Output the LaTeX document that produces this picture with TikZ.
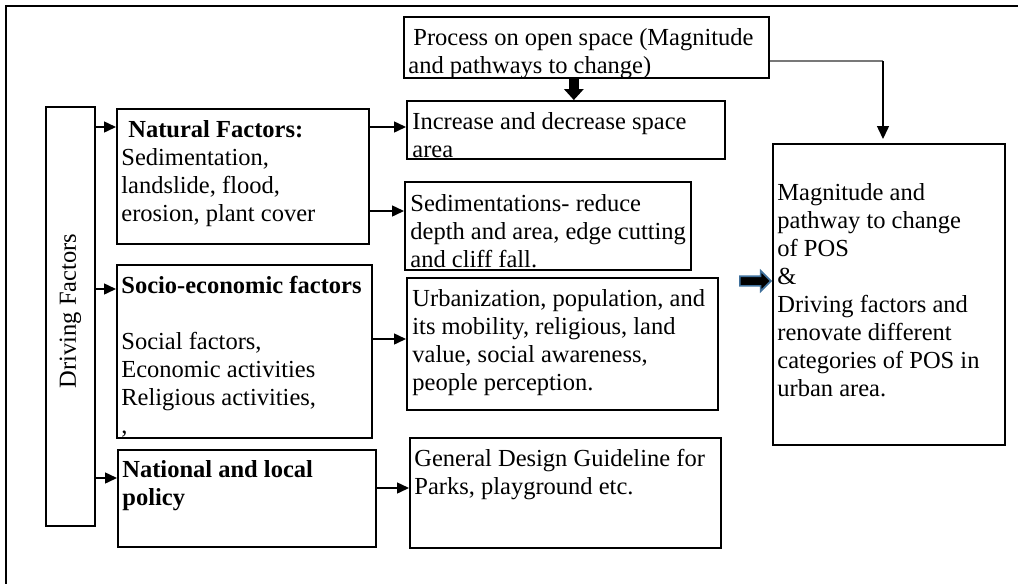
\documentclass[tikz,border=0pt]{standalone}
\usepackage{fontspec}
\setmainfont{Liberation Serif}
\usetikzlibrary{arrows.meta,positioning,shapes.arrows}
\definecolor{arrowblue}{RGB}{65,113,156}
\definecolor{linkgray}{RGB}{120,120,120}

\begin{document}
\begin{tikzpicture}[
  x=0.5pt, y=-0.5pt,
  font=\fontsize{12.25}{14}\selectfont,
  box/.style={draw, line width=0.85pt, anchor=north west, inner sep=0pt},
  txt/.style={anchor=north west, align=left, inner sep=0pt},
  conn/.style={-{Triangle[length=6pt,width=5.5pt]}, line width=0.75pt},
]
\useasboundingbox (0,0) rectangle (1018,584);
% frame
\draw[line width=0.7pt] (6,584) -- (6,6) -- (1018,6);

% driving factors column
\node[box, minimum width=24.5pt, minimum height=209.5pt] (driving) at (45,106) {};
\node[rotate=90] (drivingtxt) at ([yshift=2.75pt]driving.center) {Driving Factors};

\node[box, minimum width=126pt, minimum height=67.5pt] (natural) at (116,108) {};
\node[txt] (naturaltxt) at ([shift={(5,12.5)}]natural.north west)
  {\hspace*{3.5pt}\textbf{Natural Factors:}\\Sedimentation,\\landslide, flood,\\erosion, plant cover};
\node[box, minimum width=127.5pt, minimum height=86.5pt] (socio) at (116,264) {};
\node[txt] (sociotxt) at ([shift={(5,12)}]socio.north west)
  {\textbf{Socio-economic factors}\\[14pt]Social factors,\\Economic activities\\Religious activities,\\,};
\node[box, minimum width=129pt, minimum height=48.5pt] (national) at (117,449) {};
\node[txt] (nationaltxt) at ([shift={(5,11.5)}]national.north west)
  {\textbf{National and local}\\\textbf{policy}};

% outcome boxes
\node[box, minimum width=182.5pt, minimum height=30.5pt] (proc) at (403,16) {};
\node[txt] (proctxt) at ([shift={(5,12)}]proc.north west)
  {\hspace*{2.5pt}Process on open space (Magnitude\\and pathways to change)};
\node[box, minimum width=159pt, minimum height=29pt] (incr) at (406,100) {};
\node[txt] (incrtxt) at ([shift={(6,12.5)}]incr.north west)
  {Increase and decrease space\\area};
\node[box, minimum width=143pt, minimum height=44pt] (sedim) at (404,181) {};
\node[txt] (sedimtxt) at ([shift={(6,13.5)}]sedim.north west)
  {Sedimentations- reduce\\depth and area, edge cutting\\and cliff fall.};
\node[box, minimum width=155.5pt, minimum height=66pt] (urban) at (406,277) {};
\node[txt] (urbantxt) at ([shift={(6,12.5)}]urban.north west)
  {Urbanization, population, and\\its mobility, religious, land\\value, social awareness,\\people perception.};
\node[box, minimum width=155.5pt, minimum height=55pt] (general) at (409,437) {};
\node[txt] (generaltxt) at ([shift={(5,11.5)}]general.north west)
  {General Design Guideline for\\Parks, playground etc.};
\node[box, minimum width=116pt, minimum height=150.5pt] (pos) at (772,143) {};
\node[txt] (postxt) at ([shift={(5,40.5)}]pos.north west)
  {Magnitude and\\pathway to change\\of POS\\\&\\Driving factors and\\renovate different\\categories of POS in\\urban area.};

% arrows out of the driving factors bar
\foreach \y/\t in {127/natural, 289/socio, 478/national}
  \draw[conn] (driving.east |- 0,\y) -- (\t.west |- 0,\y);
% factor -> effect
\foreach \a/\b/\y in {natural/incr/127, natural/sedim/211, socio/urban/339, national/general/488}
  \draw[conn] (\a.east |- 0,\y) -- (\b.west |- 0,\y);

% process box links
\draw[line width=5pt, -{Triangle[length=5.5pt,width=10pt,line width=0pt]}]
  ([xshift=-6.25pt]proc.south) -- ([xshift=-6.25pt]proc.south |- incr.north);
\coordinate (bend) at (883,61);
\draw[linkgray, line width=0.6pt] (proc.east |- bend) -- (bend);
\draw[line width=0.75pt, -{Triangle[length=6.5pt,width=6pt]}] (bend) -- ([yshift=2pt]pos.north -| bend);
\node[single arrow, draw=arrowblue, fill=black, line width=0.8pt, inner sep=2pt,
  minimum height=15.5pt, single arrow head extend=2.75pt, anchor=tip]
  (toposarrow) at (pos.west |- 0,281) {};
\end{tikzpicture}
\end{document}
